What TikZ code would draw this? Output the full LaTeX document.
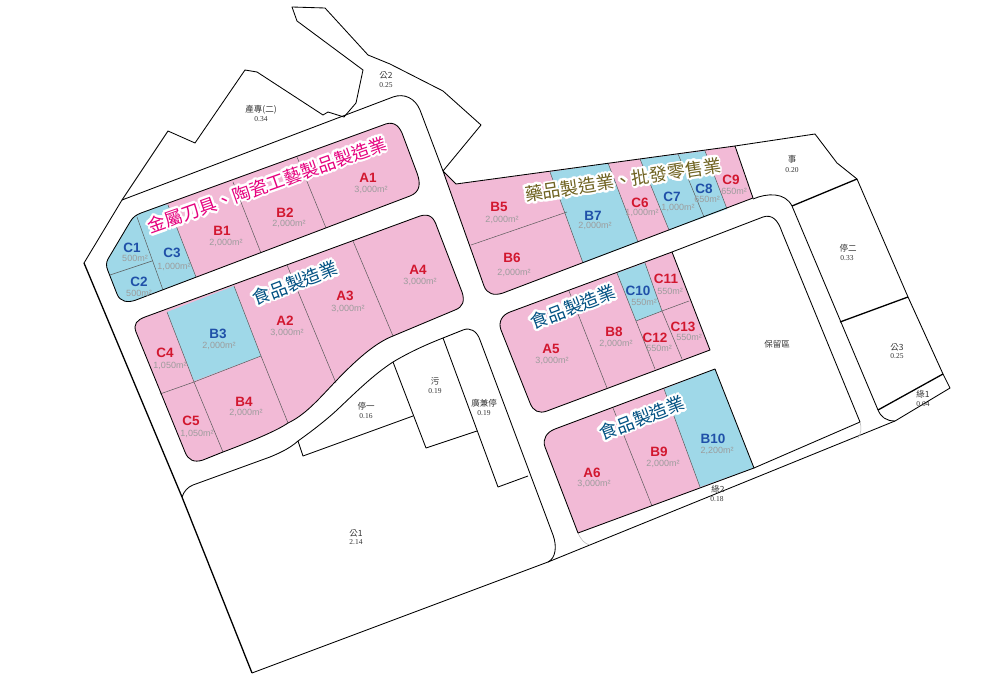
\documentclass[tikz,border=0pt]{standalone}
\usepackage{fontspec}
\setsansfont{Liberation Sans}
\newfontfamily\cjkplain{Noto Sans CJK TC}
\newfontfamily\serifnum{Liberation Serif}
\definecolor{lotpink}{HTML}{F2BAD6}
\definecolor{lotblue}{HTML}{9FD8E8}
\definecolor{namered}{HTML}{D2172F}
\definecolor{nameblue}{HTML}{1F50A8}
\definecolor{areagray}{HTML}{9C9C9C}
\definecolor{titlepink}{HTML}{E6007E}
\definecolor{titleblue}{HTML}{005082}
\definecolor{titleolive}{HTML}{6E6220}
\tikzset{
  planline/.style={black, line width=0.85pt, line join=round},
  heavyline/.style={black, line width=1.3pt, line join=round},
  lotline/.style={black!65, line width=0.5pt},
  fadeline/.style={black!30, line width=0.5pt},
  redname/.style={font=\sffamily\bfseries\fontsize{13.5}{14}\selectfont, text=namered, inner sep=0pt},
  bluename/.style={font=\sffamily\bfseries\fontsize{13.5}{14}\selectfont, text=nameblue, inner sep=0pt},
  lotarea/.style={font=\sffamily\fontsize{9}{10}\selectfont, text=areagray, inner sep=0pt},
  sitename/.style={font=\cjkplain\fontsize{8.5}{9}\selectfont, text=black!80, inner sep=0pt},
  sitenum/.style={font=\serifnum\fontsize{7.5}{8}\selectfont, text=black!80, inner sep=0pt}
}
\newcommand{\sqm}{m²}
% outlines of the five blocks, in pixels of the plan
\newcommand{\blockone}{(141,213) -- (383,125) .. controls (392,121) and (398,124) .. (402,133) -- (417,173) .. controls (421,184) and (420,192) .. (410,196) -- (136,300) .. controls (128,303) and (120,302) .. (117,294) -- (108,271) .. controls (106,266) and (106,263) .. (108,259) -- (130,222) .. controls (133,217) and (136,215) .. (141,213) -- cycle}
\newcommand{\blocktwo}{(145,317) -- (420,216) .. controls (430,213) and (434,218) .. (437,227) -- (462,292) .. controls (465,301) and (463,307) .. (455,310) -- (393,336) .. controls (375,343) and (356,360) .. (335,382) .. controls (318,400) and (305,415) .. (288,423) .. controls (278,430) and (255,440) .. (223,452) -- (203,460) .. controls (194,463) and (188,460) .. (185,452) -- (136,332) .. controls (133,324) and (137,320) .. (145,317) -- cycle}
\newcommand{\blockthree}{(443,171) -- (456,184) -- (735,146) -- (753,198) -- (503,293) .. controls (494,296) and (487,294) .. (484,286) -- cycle}
\newcommand{\blockfour}{(510,312) -- (672,252) -- (710,350) -- (547,411) .. controls (539,414) and (533,411) .. (530,403) -- (501,330) .. controls (498,322) and (502,315) .. (510,312) -- cycle}
\newcommand{\blockfive}{(555,429) -- (715,369) -- (754,468) -- (578,533) -- (545,447) .. controls (542,439) and (547,432) .. (555,429) -- cycle}
% white rim first, then the coloured words on top
\newcommand{\titlelabel}[5]{%
  \foreach \rimangle in {0,30,...,330}
    \node[rotate=#3, inner sep=0pt, text=white, shift={(\rimangle:1.9)}, font=\cjkplain\bfseries\fontsize{18}{20}\selectfont] (#1rim\rimangle) at (#2) {#5};
  \node[rotate=#3, inner sep=0pt, text=#4, font=\cjkplain\fontsize{18}{20}\selectfont] (#1) at (#2) {#5};}

\begin{document}
\begin{tikzpicture}[x=1pt, y=-1pt]
\useasboundingbox (0,0) rectangle (1004,700);
\fill [white] (0,0) rectangle (1004,700);

% outer site lines
\draw [planline] (122,200) -- (84,263);
\draw [planline] (122,200) -- (168,131) -- (195,143) -- (245,70) -- (257,72) -- (323,115) -- (328,112) -- (344,117) -- (356,103) -- (363,70) -- (297,21) -- (292,7) -- (325,8) -- (368,55) -- (390,64) -- (443,91) -- (481,125) -- (443,171);
\draw [planline] (122,200) -- (393,97) .. controls (404,93) and (415,98) .. (420,110) -- (443,171);
\draw [heavyline] (84,263) -- (182,497) -- (252,673);
\draw [planline] (252,673) -- (548,562) -- (895,421) -- (950,388) -- (943,374) -- (908,297) -- (857,179) -- (837,163) -- (815,134) -- (735,146);
\draw [planline] (753,199) .. controls (767,193) and (785,192) .. (792,206) -- (878,410) .. controls (881,417) and (886,421) .. (895,421);
\draw [planline] (672,252) -- (763,217) .. controls (772,214) and (778,220) .. (782,232) -- (860,422) -- (754,468);
\draw [heavyline] (792,206) -- (857,179);
\draw [heavyline] (840,322) -- (908,297);
\draw [heavyline] (878,410) -- (943,374);
\draw [fadeline] (578,533) .. controls (581,540) and (585,544) .. (590,545);
\draw [fadeline] (860,422) .. controls (862,428) and (861,433) .. (858,438);

% lots of public use below the blocks
\draw [planline] (182,497) .. controls (184,491) and (188,487) .. (193,485) -- (270,457) .. controls (282,452) and (290,448) .. (298,441) .. controls (312,431) and (325,421) .. (337,410) .. controls (355,393) and (373,375) .. (393,362) .. controls (408,353) and (425,345) .. (443,338) -- (463,330) .. controls (470,327) and (477,331) .. (480,340) -- (553,535) .. controls (557,546) and (556,558) .. (548,562);
\draw [planline] (298,441) -- (303,456) -- (413,416);
\draw [planline] (393,362) -- (426,448) -- (477,431);
\draw [planline] (443,338) -- (498,487) -- (528,476);

% block one
\fill [lotpink] \blockone;
\begin{scope}
\clip \blockone;
\fill [lotblue] (100,190) -- (168,205) -- (196,277) -- (100,320) -- cycle;
\end{scope}
\draw [lotline] (137,217) -- (163,290);
\draw [lotline] (110,275) -- (152,261);
\draw [lotline] (168,205) -- (196,277);
\draw [lotline] (233,182) -- (261,253);
\draw [lotline] (297,157) -- (326,228);
\draw [planline] \blockone;

% block two
\fill [lotpink] \blocktwo;
\fill [lotblue] (167,312) -- (234,286) -- (261,356) -- (194,381) -- cycle;
\draw [lotline] (167,312) -- (194,382) -- (223,452);
\draw [lotline] (160,394) -- (194,382) -- (261,356);
\draw [lotline] (234,286) -- (261,356) -- (288,423);
\draw [lotline] (287,265) -- (336,383);
\draw [lotline] (353,241) -- (393,336);
\draw [planline] \blocktwo;

% block three
\fill [lotpink] \blockthree;
\fill [lotblue] (550,172) -- (608,163) -- (638,242) -- (583,263) -- cycle;
\fill [lotblue] (640,159) -- (705,151) -- (727,209) -- (669,230) -- cycle;
\draw [lotline] (550,172) -- (583,263);
\draw [lotline] (471,245) -- (567,212);
\draw [lotline] (608,163) -- (638,242);
\draw [lotline] (640,159) -- (669,230);
\draw [lotline] (678,154) -- (704,217);
\draw [lotline] (705,151) -- (727,209);
\draw [planline] \blockthree;

% block four
\fill [lotpink] \blockfour;
\fill [lotblue] (617,273) -- (645,263) -- (662,311) -- (636,321) -- cycle;
\draw [lotline] (569,291) -- (607,388);
\draw [lotline] (617,273) -- (636,321) -- (655,369);
\draw [lotline] (645,263) -- (662,311) -- (682,359);
\draw [lotline] (636,321) -- (662,311) -- (689,301);
\draw [planline] \blockfour;

% block five
\fill [lotpink] \blockfive;
\fill [lotblue] (664,389) -- (715,369) -- (754,468) -- (700,487) -- cycle;
\draw [lotline] (613,408) -- (652,506);
\draw [lotline] (664,389) -- (700,487);
\draw [planline] \blockfive;

% lot names
\node [redname] (a1) at (368,178) {A1}; \node [lotarea] (a1area) at (371,190) {3,000\sqm};
\node [redname] (b2) at (285,213) {B2}; \node [lotarea] (b2area) at (289,224) {2,000\sqm};
\node [redname] (b1) at (222,231) {B1}; \node [lotarea] (b1area) at (226,243) {2,000\sqm};
\node [bluename] (c3) at (172,253) {C3}; \node [lotarea] (c3area) at (174,267) {1,000\sqm};
\node [bluename] (c1) at (132,248) {C1}; \node [lotarea] (c1area) at (135,258) {500\sqm};
\node [bluename] (c2) at (139,282) {C2}; \node [lotarea] (c2area) at (139,293) {500\sqm};
\node [redname] (a4) at (418,270) {A4}; \node [lotarea] (a4area) at (420,282) {3,000\sqm};
\node [redname] (a3) at (345,296) {A3}; \node [lotarea] (a3area) at (348,309) {3,000\sqm};
\node [redname] (a2) at (285,321) {A2}; \node [lotarea] (a2area) at (287,333) {3,000\sqm};
\node [bluename] (b3) at (218,334) {B3}; \node [lotarea] (b3area) at (219,346) {2,000\sqm};
\node [redname] (c4) at (165,353) {C4}; \node [lotarea] (c4area) at (170,366) {1,050\sqm};
\node [redname] (b4) at (244,402) {B4}; \node [lotarea] (b4area) at (246,413) {2,000\sqm};
\node [redname] (c5) at (191,421) {C5}; \node [lotarea] (c5area) at (197,434) {1,050\sqm};
\node [redname] (b5) at (499,207) {B5}; \node [lotarea] (b5area) at (502,220) {2,000\sqm};
\node [redname] (b6) at (512,258) {B6}; \node [lotarea] (b6area) at (514,273) {2,000\sqm};
\node [bluename] (b7) at (593,216) {B7}; \node [lotarea] (b7area) at (595,226) {2,000\sqm};
\node [redname] (c6) at (640,203) {C6}; \node [lotarea] (c6area) at (642,213) {1,000\sqm};
\node [bluename] (c7) at (672,197) {C7}; \node [lotarea] (c7area) at (678,208) {1,000\sqm};
\node [bluename] (c8) at (704,189) {C8}; \node [lotarea] (c8area) at (707,199) {650\sqm};
\node [redname] (c9) at (731,180) {C9}; \node [lotarea] (c9area) at (734,191) {650\sqm};
\node [bluename] (c10) at (638,291) {C10}; \node [lotarea] (c10area) at (644,302) {550\sqm};
\node [redname] (c11) at (666,279) {C11}; \node [lotarea] (c11area) at (670,291) {550\sqm};
\node [redname] (c12) at (655,338) {C12}; \node [lotarea] (c12area) at (659,348) {550\sqm};
\node [redname] (c13) at (683,327) {C13}; \node [lotarea] (c13area) at (689,337) {550\sqm};
\node [redname] (b8) at (614,332) {B8}; \node [lotarea] (b8area) at (616,344) {2,000\sqm};
\node [redname] (a5) at (551,349) {A5}; \node [lotarea] (a5area) at (552,361) {3,000\sqm};
\node [redname] (a6) at (592,473) {A6}; \node [lotarea] (a6area) at (594,484) {3,000\sqm};
\node [redname] (b9) at (659,452) {B9}; \node [lotarea] (b9area) at (663,464) {2,000\sqm};
\node [bluename] (b10) at (713,439) {B10}; \node [lotarea] (b10area) at (717,451) {2,200\sqm};

% site names
\node [sitename] (gong2) at (386,75) {公2}; \node [sitenum] (gong2num) at (386,85) {0.25};
\node [sitename] (chan) at (261,110) {產專(二)}; \node [sitenum] (channum) at (261,119) {0.34};
\node [sitename] (shi) at (792,159) {事}; \node [sitenum] (shinum) at (792,170) {0.20};
\node [sitename] (ting2) at (848,248) {停二}; \node [sitenum] (ting2num) at (847,258) {0.33};
\node [sitename] (baoliu) at (777,344) {保留區};
\node [sitename] (gong3) at (897,347) {公3}; \node [sitenum] (gong3num) at (897,356) {0.25};
\node [sitename] (lu1) at (923,394) {綠1}; \node [sitenum] (lu1num) at (923,404) {0.04};
\node [sitename] (lu2) at (718,489) {綠2}; \node [sitenum] (lu2num) at (717,499) {0.18};
\node [sitename] (gong1) at (356,533) {公1}; \node [sitenum] (gong1num) at (356,542) {2.14};
\node [sitename] (ting1) at (366,406) {停一}; \node [sitenum] (ting1num) at (366,416) {0.16};
\node [sitename] (wu) at (435,381) {污}; \node [sitenum] (wunum) at (435,391) {0.19};
\node [sitename] (guang) at (484,403) {廣兼停}; \node [sitenum] (guangnum) at (484,413) {0.19};

% block titles
\titlelabel{metaltitle}{267,185}{19.5}{titlepink}{金屬刀具、陶瓷工藝製品製造業}
\titlelabel{foodone}{295,283}{21}{titleblue}{食品製造業}
\titlelabel{drugtitle}{623,180}{8.7}{titleolive}{藥品製造業、批發零售業}
\titlelabel{foodtwo}{573,307}{21}{titleblue}{食品製造業}
\titlelabel{foodthree}{642,418}{21}{titleblue}{食品製造業}
\end{tikzpicture}
\end{document}
